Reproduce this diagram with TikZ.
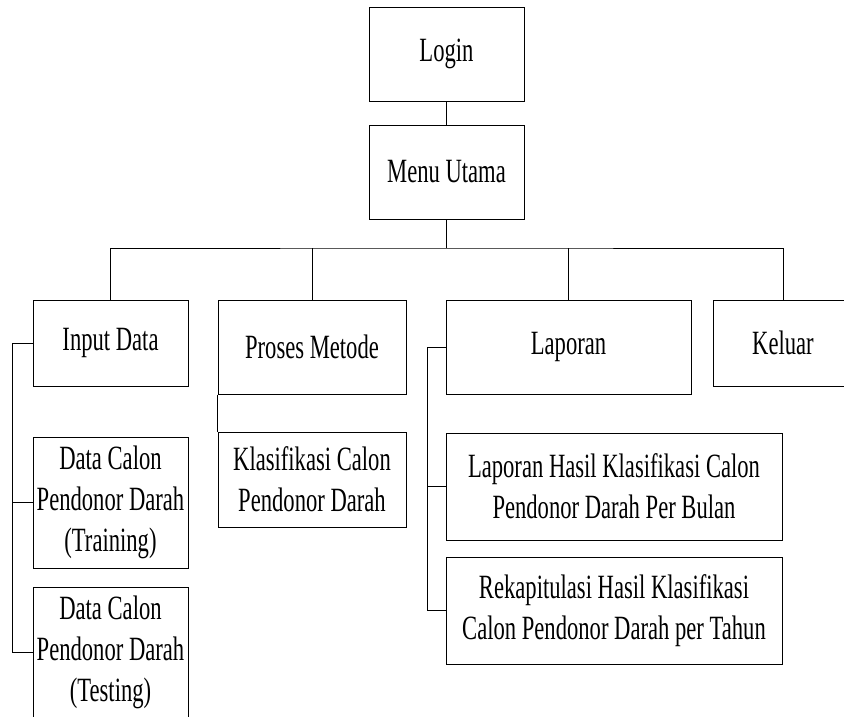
\documentclass[tikz,border=0pt]{standalone}
\usepackage{fontspec}
\newfontfamily\boxfont[FakeStretch=0.665]{Liberation Serif}
\begin{document}
\begin{tikzpicture}[x=1pt, y=-1pt,
  box/.style={draw, line width=1pt, align=center, inner sep=0pt,
    font=\boxfont\fontsize{34}{41}\selectfont},
  link/.style={line width=1pt}]
  \useasboundingbox (0,0) rectangle (844,716);
  \clip (0,0) rectangle (844,716);

  % top level
  \node[box, minimum width=155, minimum height=94] (login) at (446.5,54) {Login};
  \node[box, minimum width=155, minimum height=94] (menu) at (446.5,172) {Menu Utama};

  % main menu items
  \node[box, minimum width=155, minimum height=86] (input) at (110.5,343) {Input Data};
  \node[box, minimum width=188, minimum height=94] (proses) at (312,347) {Proses Metode};
  \node[box, minimum width=245, minimum height=94] (laporan) at (568.5,347) {Laporan};
  \node[box, minimum width=140, minimum height=86] (keluar) at (783,343) {Keluar};

  % sub items
  \node[box, minimum width=155, minimum height=131] (train) at (110.5,502.5)
    {Data Calon\\Pendonor Darah\\(Training)};
  \node[box, minimum width=155, minimum height=131] (test) at (110.5,652.5)
    {Data Calon\\Pendonor Darah\\(Testing)};
  \node[box, minimum width=188, minimum height=95] (klas) at (312,479.5)
    {Klasifikasi Calon\\Pendonor Darah};
  \node[box, minimum width=336, minimum height=107] (lapbulan) at (614,486.5)
    {Laporan Hasil Klasifikasi Calon\\Pendonor Darah Per Bulan};
  \node[box, minimum width=336, minimum height=107] (rekap) at (614,610.5)
    {Rekapitulasi Hasil Klasifikasi\\Calon Pendonor Darah per Tahun};

  % connectors
  \draw[link] (login) -- (menu);
  \coordinate (bus) at (446.5,248);
  \draw[link] (menu.south) -- (bus);
  \draw[link] (input.north) |- (bus) -| (keluar.north);
  \draw[link] (proses.north) -- (proses.north |- bus);
  \draw[link] (laporan.north) -- (laporan.north |- bus);

  \coordinate (inbr) at (12,343);
  \draw[link] (input.west) -- (inbr) |- (test.west);
  \draw[link] (inbr |- train.west) -- (train.west);

  \draw[link] (proses.south west) -- (klas.north west);

  \coordinate (lapbr) at (427,347);
  \draw[link] (laporan.west) -- (lapbr) |- (rekap.west);
  \draw[link] (lapbr |- lapbulan.west) -- (lapbulan.west);
\end{tikzpicture}
\end{document}
